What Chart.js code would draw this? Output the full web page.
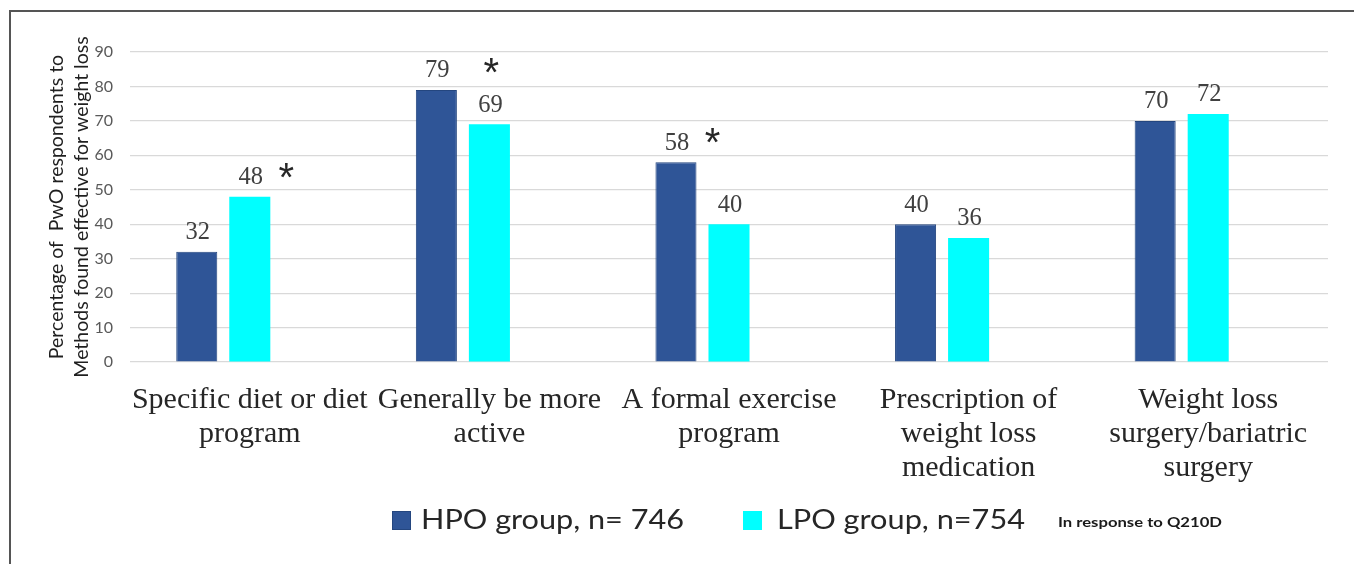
<!DOCTYPE html>
<html>
<head>
<meta charset="utf-8">
<script src="https://cdn.jsdelivr.net/npm/chart.js@4/dist/chart.umd.min.js"></script>
<style>
  html, body { margin: 0; padding: 0; background: #ffffff; }
  #wrap { position: relative; width: 1354px; height: 564px; overflow: hidden; }
  #frame { position: absolute; left: 9px; top: 10px; right: -4px; bottom: -4px;
           border-left: 2px solid #555555; border-top: 2px solid #555555; pointer-events: none; }
  canvas { position: absolute; left: 0; top: 0; }
</style>
</head>
<body>
<div id="wrap">
  <canvas id="chart" width="1354" height="564"></canvas>
  <div id="frame"></div>
</div>
<script>
// Weight-loss methods rated effective, by group
const categories = [
  ['Specific diet or diet', 'program'],
  ['Generally be more', 'active'],
  ['A formal exercise', 'program'],
  ['Prescription of', 'weight loss', 'medication'],
  ['Weight loss', 'surgery/bariatric', 'surgery']
];
const hpoValues = [32, 79, 58, 40, 70];
const lpoValues = [48, 69, 40, 36, 72];
// third, empty series keeps the pair of bars left of each category centre
const emptySeries = [null, null, null, null, null];

const seriesNames = ['HPO group, n= 746', 'LPO group, n=754'];
const seriesColors = ['#2f5597', '#00ffff'];
const seriesBorders = ['#24467f', '#00ffff'];

// significance marks: which bar they sit beside and on which side
const sigMarks = ['*', '*', '*', '', ''];
const sigSeries = [1, 1, 0, null, null];
const sigSide = ['right', 'above', 'right', '', ''];

const yTitle = ['Percentage of  PwO respondents to', 'Methods found effective for weight loss'];
const yMin = 0, yMax = 90, yStep = 10;
const footnote = 'In response to Q210D';

const valueLabels = {
  id: 'valueLabels',
  afterDatasetsDraw(chart) {
    const ctx = chart.ctx;
    ctx.save();
    ctx.font = '24.5px "Liberation Serif", "Times New Roman", serif';
    ctx.fillStyle = '#404040';
    ctx.textAlign = 'center';
    ctx.textBaseline = 'middle';
    [0, 1].forEach(di => {
      const meta = chart.getDatasetMeta(di);
      meta.data.forEach((bar, i) => {
        const v = chart.data.datasets[di].data[i];
        ctx.fillText(String(v), bar.x + 1, bar.y - 19);
      });
    });
    // asterisks (glyph sits high, so shift the anchor down to centre it)
    ctx.font = '40px "Liberation Sans", Arial, sans-serif';
    ctx.fillStyle = '#262626';
    sigMarks.forEach((m, i) => {
      if (!m) return;
      const bar = chart.getDatasetMeta(sigSeries[i]).data[i];
      const labelY = bar.y - 19;
      let x, y;
      if (sigSide[i] === 'above') { x = bar.x + 2; y = labelY - 39; }
      else { x = bar.x + 36.5; y = labelY - 7; }
      ctx.fillText(m, x, y + 9);
    });
    ctx.restore();
  }
};

function drawFitted(ctx, text, x, baseline, font, width) {
  ctx.font = font;
  const w = ctx.measureText(text).width;
  ctx.save();
  ctx.translate(x, baseline);
  ctx.scale(width / w, 1);
  ctx.fillText(text, 0, 0);
  ctx.restore();
}

const legendBlock = {
  id: 'legendBlock',
  afterDraw(chart) {
    const ctx = chart.ctx;
    ctx.save();
    ctx.textBaseline = 'alphabetic';
    ctx.textAlign = 'left';
    const boxX = [392, 743];
    const textX = [421, 777];
    const textW = [263, 248];
    seriesNames.forEach((name, i) => {
      ctx.fillStyle = seriesColors[i];
      ctx.fillRect(boxX[i], 511, 19, 19);
      if (i === 0) { ctx.strokeStyle = seriesBorders[0]; ctx.lineWidth = 1; ctx.strokeRect(boxX[i] + 0.5, 511.5, 18, 18); }
      ctx.fillStyle = '#262626';
      drawFitted(ctx, name, textX[i], 529, '27px Lato, "Open Sans", sans-serif', textW[i]);
    });
    ctx.fillStyle = '#1a1a1a';
    drawFitted(ctx, footnote, 1058, 527, 'bold 14px Lato, "Open Sans", sans-serif', 164);
    ctx.restore();
  }
};

new Chart(document.getElementById('chart'), {
  type: 'bar',
  data: {
    labels: categories,
    datasets: [
      { label: seriesNames[0], data: hpoValues, backgroundColor: seriesColors[0], borderColor: seriesBorders[0], borderWidth: 1 },
      { label: seriesNames[1], data: lpoValues, backgroundColor: seriesColors[1], borderColor: seriesBorders[1], borderWidth: 0 },
      { label: '', data: emptySeries, backgroundColor: 'rgba(0,0,0,0)' }
    ]
  },
  options: {
    responsive: false,
    animation: false,
    events: [],
    categoryPercentage: 0.664,
    barPercentage: 0.774,
    layout: { padding: { left: 20, right: 26, top: 52, bottom: 72 } },
    plugins: { legend: { display: false }, tooltip: { enabled: false } },
    scales: {
      x: {
        grid: { display: false, drawTicks: false },
        border: { display: false },
        ticks: {
          autoSkip: false, maxRotation: 0, minRotation: 0, padding: 21,
          color: '#262626',
          font: { family: '"Liberation Serif", "Times New Roman", serif', size: 30, lineHeight: 34 / 30 }
        },
        afterFit(scale) { scale.height = 130; }
      },
      y: {
        min: yMin, max: yMax,
        grid: { color: '#d9d9d9', lineWidth: 1.2, drawTicks: false },
        border: { display: false },
        ticks: {
          stepSize: yStep, padding: 17, color: '#595959',
          font: { family: 'Lato, "Open Sans", sans-serif', size: 16 }
        },
        title: {
          display: true, text: yTitle, color: '#1f1f1f',
          padding: { top: 24, bottom: 0 },
          font: { family: 'Lato, "Open Sans", sans-serif', size: 19.5, lineHeight: 25 / 19.5 }
        },
        afterFit(scale) { scale.width = 110; }
      }
    }
  },
  plugins: [valueLabels, legendBlock]
});
</script>
</body>
</html>
